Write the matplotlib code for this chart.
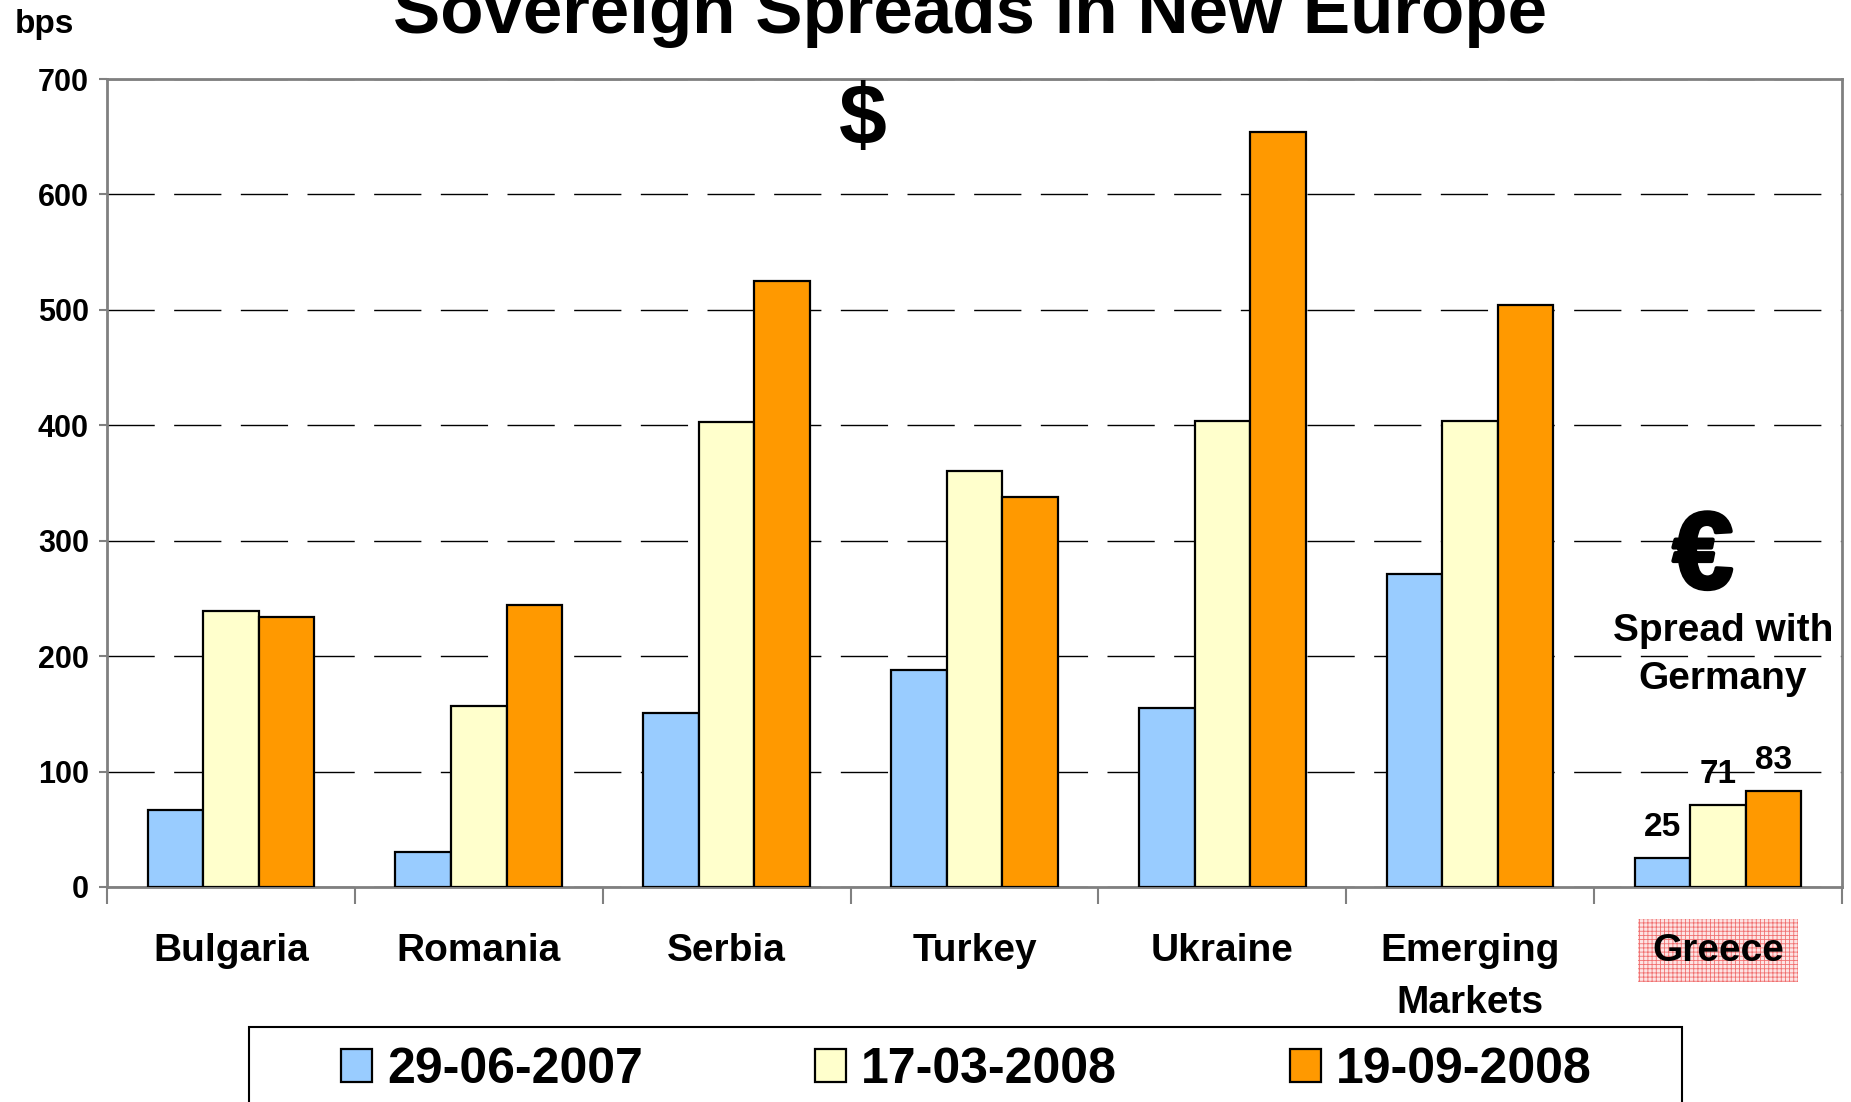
import matplotlib.pyplot as plt
import matplotlib.patheffects as pe
import numpy as np
from matplotlib.patches import Rectangle

plt.rcParams['font.family'] = ['Liberation Sans', 'DejaVu Sans']
plt.rcParams['font.weight'] = 'bold'
plt.rcParams['hatch.linewidth'] = 0.6

countries = ["Bulgaria", "Romania", "Serbia", "Turkey", "Ukraine", "Emerging\nMarkets", "Greece"]
dates = ["29-06-2007", "17-03-2008", "19-09-2008"]
jun07 = [67, 30, 151, 188, 155, 271, 25]
mar08 = [239, 157, 403, 360, 404, 404, 71]
sep08 = [234, 244, 525, 338, 654, 504, 83]
colors = ["#99ccff", "#ffffcc", "#ff9900"]

fig = plt.figure(figsize=(18.51, 11.02), dpi=100)
ax = fig.add_axes([0.0578, 0.1951, 0.9373, 0.7332])

x = np.arange(len(countries))
w = 0.224
bars = []
for k, vals in enumerate([jun07, mar08, sep08]):
    b = ax.bar(x + (k - 1) * w, vals, w, color=colors[k], edgecolor='black',
               linewidth=1.6, label=dates[k], zorder=3)
    bars.append(b)

# only Greece gets value labels
for k, vals in enumerate([jun07, mar08, sep08]):
    labs = [''] * (len(vals) - 1) + [str(vals[-1])]
    ax.bar_label(bars[k], labels=labs, padding=11, fontsize=24, fontweight='bold')

ax.set_xlim(-0.5, len(countries) - 0.5)
ax.set_ylim(0, 700)
ax.set_yticks(range(0, 701, 100))
ax.yaxis.grid(True, linestyle=(0, (34, 14)), color='black', linewidth=1)
ax.set_axisbelow(True)

for s in ax.spines.values():
    s.set_color('#808080')
    s.set_linewidth(2)

ax.tick_params(axis='y', length=6, width=1.5, color='#808080', labelsize=22, pad=7)
ax.set_xticks(x)
ax.set_xticklabels(countries, fontsize=28, linespacing=1.58)
ax.tick_params(axis='x', which='major', length=0, pad=33)
ax.set_xticks(np.arange(-0.5, len(countries)), minor=True)
ax.tick_params(axis='x', which='minor', length=12, width=1.5, color='#808080')

ax.get_xticklabels()[-1].set_bbox(dict(boxstyle='square,pad=0.35', facecolor='#fde4e4',
                                       edgecolor='#f07070', hatch='++++', linewidth=0))

fig.text(0.524, 0.970, "Sovereign Spreads in New Europe", ha='center', va='baseline', fontsize=51)
fig.text(44 / 1851, 1 - 24 / 1102, "bps", ha='center', va='center', fontsize=24)
fig.text(863 / 1851, 1 - 122 / 1102, r"\$", ha='center', va='center', fontsize=62)
fig.text(1703 / 1851, 1 - 560 / 1102, "€", ha='center', va='center', fontsize=78,
         path_effects=[pe.withStroke(linewidth=3, foreground='black')])
fig.text(1723 / 1851, 1 - 655 / 1102, "Spread with\nGermany", ha='center', va='center',
         fontsize=28, linespacing=1.45)

fig.legend(handles=bars, labels=dates, loc='center', bbox_to_anchor=(0.522, 0.029), ncol=3,
           frameon=False, fontsize=36, handlelength=0.62, handleheight=0.66,
           handletextpad=0.3, columnspacing=3.45)
fig.patches.append(Rectangle((249 / 1851, -0.05), (1682 - 249) / 1851, 0.068 + 0.05,
                             transform=fig.transFigure, fill=False, edgecolor='black', lw=1.5))

fig.savefig('out.png', dpi=100)
